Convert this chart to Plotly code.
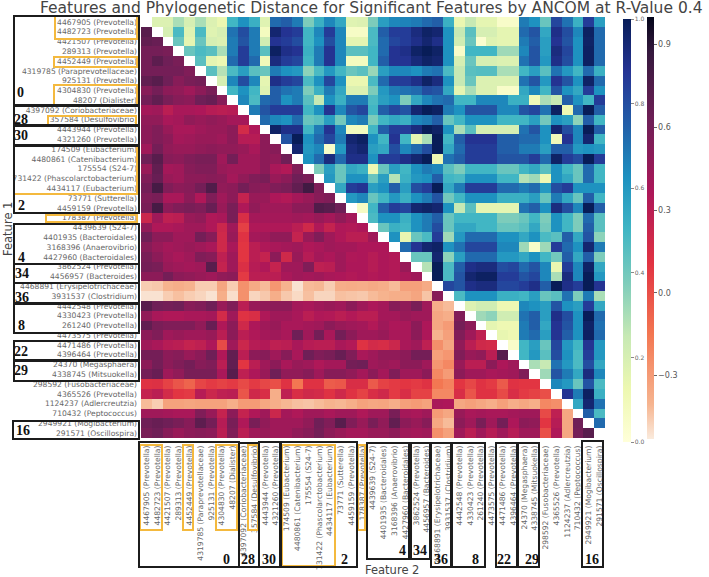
import plotly.graph_objects as go

features = ["4467905 (Prevotella)","4482723 (Prevotella)","4421507 (Prevotella)","289313 (Prevotella)","4452449 (Prevotella)",
"4319785 (Paraprevotellaceae)","925131 (Prevotella)","4304830 (Prevotella)","48207 (Dialister)","4397092 (Coriobacteriaceae)",
"357584 (Desulfovibrio)","4443944 (Prevotella)","4321260 (Prevotella)","174509 (Eubacterium)","4480861 (Catenibacterium)",
"175554 (S24-7)","731422 (Phascolarctobacterium)","4434117 (Eubacterium)","73771 (Sutterella)","4459159 (Prevotella)",
"178387 (Prevotella)","4439639 (S24-7)","4401935 (Bacteroidales)","3168396 (Anaerovibrio)","4427960 (Bacteroidales)",
"3862524 (Prevotella)","4456957 (Bacteroides)","4468891 (Erysipelotrichaceae)","3931537 (Clostridium)","4442548 (Prevotella)",
"4330423 (Prevotella)","261240 (Prevotella)","4473575 (Prevotella)","4471486 (Prevotella)","4396464 (Prevotella)",
"24370 (Megasphaera)","4338745 (Mitsuokella)","298592 (Fusobacteriaceae)","4365526 (Prevotella)","1124237 (Adlercreutzia)",
"710432 (Peptococcus)","2949921 (Mogibacterium)","291571 (Oscillospira)"]

# phylogenetic distance: one list per row, cells to the right of the diagonal
distance = [
[.18,.18,.30,.20,.30,.18,.13,.50,.62,.52,.17,.72,.75,.68,.38,.52,.65,.55,.17,.18,.38,.58,.65,.66,.68,.72,.75,.52,.13,.25,.15,.15,.05,.05,.68,.62,.42,.82,.70,.52,.85,.58],
[.20,.48,.17,.48,.17,.20,.70,.80,.68,.08,.95,.88,.85,.50,.65,.85,.65,.06,.06,.48,.75,.85,.85,.92,.97,.95,.62,.25,.45,.20,.20,.15,.15,.72,.78,.55,.90,.80,.65,.98,.72],
[.42,.15,.42,.20,.18,.68,.78,.68,.22,.88,.85,.80,.50,.62,.80,.65,.15,.15,.48,.72,.82,.85,.90,.95,.90,.62,.22,.42,.03,.17,.15,.15,.68,.75,.58,.88,.78,.62,.97,.72],
[.42,.48,.45,.30,.68,.85,.68,.45,.98,.90,.88,.52,.68,.88,.65,.45,.45,.50,.72,.88,.90,.97,1.0,.97,.62,.05,.50,.50,.50,.32,.32,.65,.78,.58,.92,.82,.62,.98,.72],
[.45,.15,.12,.72,.85,.72,.10,.92,.85,.82,.50,.68,.88,.65,.08,.08,.50,.75,.88,.88,.93,.97,.95,.62,.20,.42,.20,.20,.18,.18,.70,.78,.60,.90,.80,.62,.98,.72],
[.45,.28,.48,.58,.45,.42,.68,.62,.60,.35,.48,.60,.50,.42,.45,.33,.58,.65,.65,.62,.68,.70,.48,.25,.45,.46,.46,.30,.30,.50,.58,.45,.70,.60,.50,.72,.52],
[.20,.65,.80,.65,.15,.90,.85,.82,.48,.62,.82,.62,.13,.13,.48,.72,.85,.85,.90,.97,.92,.62,.25,.42,.18,.18,.18,.18,.70,.78,.60,.88,.78,.62,.97,.72],
[.50,.62,.50,.17,.75,.70,.68,.38,.52,.68,.55,.18,.18,.38,.60,.68,.70,.72,.80,.78,.55,.15,.30,.18,.18,.05,.05,.55,.65,.50,.78,.62,.55,.85,.62],
[.65,.48,.72,.75,.62,.68,.45,.25,.62,.52,.68,.68,.48,.58,.62,.38,.55,.65,.70,.72,.50,.50,.65,.65,.65,.52,.52,.10,.30,.25,.75,.62,.50,.85,.55],
[.68,.78,.85,.85,.85,.50,.62,.88,.65,.78,.82,.50,.75,.82,.78,.95,1.0,.98,.68,.62,.78,.78,.78,.65,.65,.78,.82,.70,.98,.12,.72,1.0,.75],
[.72,.65,.62,.72,.42,.45,.58,.40,.65,.68,.38,.50,.55,.52,.65,.68,.75,.42,.50,.62,.62,.62,.50,.50,.50,.58,.40,.62,.58,.35,.75,.50],
[.97,.90,.90,.50,.68,.88,.65,.08,.08,.50,.75,.85,.85,.92,1.0,.97,.62,.30,.45,.20,.20,.20,.20,.70,.78,.62,.95,.80,.65,1.0,.75],
[.78,1.0,.62,.72,.82,.68,.95,.98,.62,.50,.88,.50,.15,.30,1.0,.50,.75,.88,.88,.88,.75,.75,.72,.72,.62,.10,.88,.65,.95,.50],
[.95,.60,.65,.05,.60,.92,.95,.58,.55,.80,.65,.72,.80,1.0,.55,.72,.85,.85,.85,.75,.75,.68,.68,.58,.75,.75,.60,.62,.60],
[.62,.72,.92,.72,.90,.90,.62,.85,.85,.90,.95,1.0,.12,.70,.75,.85,.85,.85,.78,.78,.78,.85,.72,.97,.85,.80,1.0,.85],
[.38,.58,.42,.55,.52,.12,.42,.58,.50,.62,.68,.65,.45,.38,.50,.50,.50,.42,.42,.50,.55,.45,.62,.50,.42,.72,.50],
[.60,.42,.62,.62,.42,.58,.28,.52,.60,.62,.75,.50,.48,.62,.62,.62,.50,.50,.28,.32,.12,.62,.55,.42,.72,.50],
[.55,.85,.88,.58,.62,.75,.58,.80,.85,1.0,.55,.68,.85,.85,.85,.72,.72,.68,.72,.60,.80,.85,.62,.62,.62],
[.60,.65,.42,.50,.60,.52,.62,.68,.78,.40,.50,.62,.62,.62,.52,.52,.52,.58,.42,.68,.55,.42,.75,.50],
[.07,.50,.75,.85,.82,.95,.97,.95,.62,.25,.45,.15,.15,.15,.15,.70,.75,.62,.92,.80,.65,1.0,.75],
[.48,.62,.62,.52,.62,.68,.75,.42,.50,.50,.50,.50,.38,.38,.42,.50,.38,.62,.50,.38,.72,.45],
[.42,.52,.50,.62,.68,.80,.42,.55,.55,.50,.50,.42,.42,.45,.55,.40,.62,.50,.38,.75,.45],
[.62,.14,.42,.48,.85,.32,.60,.72,.72,.72,.62,.62,.55,.62,.48,.45,.75,.55,.78,.35],
[.72,.88,.95,.97,.62,.70,.82,.82,.82,.65,.65,.32,.05,.32,.85,.72,.62,.95,.68],
[.42,.42,.95,.35,.58,.72,.72,.72,.60,.60,.55,.62,.50,.40,.75,.55,.75,.38],
[.28,1.0,.48,.75,.90,.92,.92,.80,.82,.72,.78,.65,.13,.85,.65,.97,.55],
[1.0,.48,.78,.95,.98,.98,.85,.85,.78,.82,.65,.30,.92,.65,1.0,.60],
[.82,.78,.90,.92,.92,.82,.82,.85,.90,.75,1.0,.90,.85,1.0,.88],
[.48,.62,.62,.62,.52,.52,.50,.58,.42,.45,.70,.38,.68,.30],
[.18,.22,.22,.12,.12,.65,.62,.58,.78,.62,.58,.85,.55],
[.32,.35,.22,.22,.70,.75,.58,.90,.80,.62,1.0,.72],
[.15,.12,.12,.68,.75,.55,.88,.78,.62,.97,.70],
[.14,.12,.68,.72,.58,.88,.75,.62,.98,.72],
[.05,.50,.58,.42,.82,.60,.50,.88,.60],
[.50,.60,.45,.80,.62,.48,.85,.60],
[.30,.25,.70,.60,.48,.80,.55],
[.32,.78,.68,.55,.92,.65],
[.65,.60,.42,.78,.48],
[.88,.68,.98,.52],
[.55,.95,.70],
[.75,.48],
[.72],
]

# correlation: one list per row from the second, cells left of the diagonal
correlation = [
[.72],
[.68,.65],
[.60,.60,.58],
[.60,.70,.62,.58],
[.60,.60,.60,.60,.55],
[.68,.72,.62,.52,.58,.60],
[.52,.60,.50,.48,.42,.50,.58],
[.60,.68,.58,.52,.50,.62,.65,.52],
[.40,.42,.30,.38,.38,.36,.32,.30,.32],
[.48,.48,.38,.40,.48,.45,.48,.45,.40,.40],
[.50,.55,.45,.38,.38,.42,.45,.45,.50,.18,.35],
[.50,.55,.50,.40,.42,.45,.45,.42,.50,.32,.32,.50],
[.42,.60,.48,.45,.45,.48,.50,.48,.48,.45,.38,.50,.52],
[.62,.72,.52,.50,.55,.58,.58,.42,.60,.42,.42,.50,.48,.62],
[.45,.68,.40,.42,.52,.55,.55,.45,.42,.42,.42,.50,.38,.34,.55],
[.55,.65,.45,.42,.50,.50,.52,.50,.40,.48,.55,.58,.45,.50,.62,.58],
[.60,.80,.55,.50,.52,.60,.75,.48,.50,.60,.52,.50,.55,.58,.68,.82,.55],
[.55,.58,.38,.38,.50,.35,.55,.42,.50,.25,.45,.45,.36,.34,.40,.45,.52,.55],
[.58,.80,.50,.55,.58,.55,.65,.45,.58,.35,.48,.42,.42,.42,.50,.50,.75,.72,.62],
[.22,.42,.28,.30,.45,.48,.35,.38,.58,.15,.40,.40,.40,.40,.42,.40,.45,.40,.48,.40],
[.48,.35,.35,.38,.42,.42,.35,.22,.42,.06,.35,.35,.35,.35,.30,.20,.35,.25,.35,.34,.36],
[.62,.50,.50,.42,.42,.60,.52,.20,.45,.12,.40,.42,.48,.48,.25,.45,.55,.42,.35,.30,.30,.42],
[.52,.45,.40,.42,.45,.42,.38,.20,.38,.10,.30,.35,.38,.40,.42,.35,.38,.42,.40,.40,.36,.36,.36],
[.58,.50,.42,.38,.42,.55,.52,.28,.42,.10,.30,.25,.50,.20,.45,.32,.40,.36,.42,.35,.36,.32,.36,.34],
[.60,.58,.45,.42,.40,.42,.72,.25,.42,.14,.32,.35,.25,.42,.42,.55,.28,.30,.42,.36,.36,.32,.36,.34,.45],
[.50,.50,.60,.50,.48,.45,.42,.48,.50,.08,.30,.30,.30,.38,.42,.40,.42,.38,.36,.34,.36,.34,.36,.34,.38,.42],
[-.46,-.45,-.40,-.38,-.40,-.46,-.46,-.34,-.46,-.26,-.36,-.42,-.28,-.40,-.51,-.42,-.41,-.46,-.38,-.37,-.38,-.36,-.38,-.42,-.32,-.32,-.36],
[-.51,-.51,-.46,-.43,-.46,-.48,-.51,-.38,-.50,-.26,-.48,-.45,-.38,-.45,-.49,-.43,-.48,-.48,-.43,-.44,-.45,-.42,-.40,-.38,-.38,-.34,-.44,.52],
[.72,.62,.60,.62,.52,.55,.62,.45,.55,.30,.45,.48,.50,.50,.40,.38,.42,.45,.42,.50,.42,.36,.40,.52,.48,.58,.42,-.38,-.42],
[.48,.38,.35,.35,.38,.38,.40,.18,.42,.12,.15,.35,.42,.42,.38,.30,.35,.34,.30,.34,.30,.30,.40,.40,.45,.42,.42,-.35,-.38,.55],
[.68,.58,.55,.55,.55,.48,.65,.35,.50,.20,.36,.42,.45,.38,.38,.40,.42,.50,.45,.42,.40,.34,.42,.36,.38,.50,.36,-.35,-.30,.60,.50],
[.50,.55,.42,.45,.42,.42,.45,.30,.50,.30,.35,.40,.42,.38,.62,.42,.60,.38,.60,.50,.42,.42,.45,.38,.38,.50,.36,-.40,-.32,.55,.42,.28],
[.42,.38,.32,.30,.25,.28,.36,.02,.42,.22,.32,.34,.28,.30,.38,.32,.30,.30,.38,.34,.12,.18,.16,.22,.38,.42,.28,-.25,-.35,.48,.30,.20,.18],
[.60,.60,.50,.52,.45,.50,.62,.35,.68,.30,.50,.52,.42,.52,.38,.62,.55,.58,.65,.55,.38,.42,.48,.48,.50,.60,.60,-.32,-.28,.55,.45,.48,.30,.72],
[.50,.60,.50,.55,.60,.52,.55,.30,.68,.10,.30,.42,.50,.38,.45,.42,.35,.40,.40,.60,.62,.42,.45,.42,.50,.50,.42,-.28,-.22,.45,.30,.30,.50,.36,.42],
[.60,.65,.42,.48,.58,.58,.58,.38,.72,.28,.36,.45,.62,.48,.48,.52,.42,.52,.52,.48,.40,.50,.40,.55,.42,.42,.50,-.22,-.30,.50,.42,.42,.38,.40,.42,.55],
[.12,.13,.05,-.02,-.08,.04,.08,.05,.08,.02,.08,.03,.00,.12,-.15,.12,.12,-.05,-.03,.15,.15,-.04,.05,.08,.10,.08,.12,-.15,-.20,.10,.03,.12,.08,-.04,.12,.10,.10],
[.25,.30,.18,.10,.08,.32,.22,.28,.30,-.02,.20,.15,-.38,.28,.15,.20,.18,.12,.20,.12,.05,.15,.20,.08,.15,.05,.05,-.22,-.22,.15,-.02,.12,.12,.02,.15,.08,.05,.00],
[-.42,-.46,-.33,-.33,-.34,-.33,-.33,-.33,-.38,-.30,-.30,-.35,-.38,-.41,-.43,-.44,-.42,-.40,-.41,-.38,-.33,-.35,-.34,-.38,-.32,-.30,-.33,.38,.36,-.35,-.32,-.35,-.38,-.32,-.38,-.35,-.38,-.22,-.25],
[.42,.42,.40,.38,.38,.55,.45,.25,.50,.25,.35,.42,.22,.40,.35,.42,.42,.38,.42,.42,.35,.42,.42,.58,.40,.38,.42,-.30,-.35,.45,.38,.40,.38,.38,.40,.42,.42,.02,.28,-.35],
[.62,.65,.62,.58,.52,.70,.60,.32,.58,.35,.58,.48,.42,.42,.42,.48,.62,.55,.72,.55,.45,.58,.48,.68,.50,.45,.52,-.35,-.42,.50,.42,.58,.42,.60,.36,.50,.48,.10,.32,-.35,.62],
[.58,.62,.52,.45,.50,.52,.50,.30,.55,.30,.42,.45,.42,.42,.48,.52,.60,.50,.45,.40,.40,.45,.45,.50,.42,.40,.42,-.25,-.32,.42,.30,.42,.32,.42,.32,.42,.42,.00,.35,-.35,.60,.72],
]

n = len(features)

def fit(row, size):
    row = list(row)[:size]
    return row + [row[-1]] * (size - len(row))

upper_z, lower_z = [], []
for i in range(n):
    upper_z.append([None] * (i + 1) + (fit(distance[i], n - i - 1) if i < n - 1 else []))
    lower_z.append((fit(correlation[i - 1], i) if i > 0 else []) + [None] * (n - i))

ylgnbu = ["#ffffd9","#edf8b1","#c7e9b4","#7fcdbb","#41b6c4","#1d91c0","#225ea8","#253494","#081d58"]
rocket_r = [[0,"#faebdd"],[.083,"#f6b48f"],[.25,"#f37651"],[.417,"#e13342"],[.583,"#ad1759"],[.75,"#701f57"],[.917,"#35193e"],[1,"#03051a"]]

W, H = 709, 577
L, R, T, B = 141, 605, 17, 438
px = lambda x: (x - L) / (R - L)
py = lambda y: (B - y) / (B - T)

fig = go.Figure()
fig.add_trace(go.Heatmap(z=upper_z, x=features, y=features, zmin=0, zmax=1, hoverongaps=False,
    colorscale=[[i / 8, c] for i, c in enumerate(ylgnbu)],
    colorbar=dict(x=px(623), xanchor="left", y=py(19), yanchor="top", ypad=0, xpad=0, thickness=8, thicknessmode="pixels",
                  len=423, lenmode="pixels", outlinewidth=0, tickvals=[0,.2,.4,.6,.8,1],
                  ticktext=["0.0","0.2","0.4","0.6","0.8","1.0"], ticks="outside", ticklen=3, tickcolor="#888",
                  tickfont=dict(size=6, color="#666", family="DejaVu Sans"))))
fig.add_trace(go.Heatmap(z=lower_z, x=features, y=features, zmin=-.53, zmax=1, hoverongaps=False,
    colorscale=rocket_r,
    colorbar=dict(x=px(647), xanchor="left", y=py(17), yanchor="top", ypad=0, xpad=0, thickness=7, thicknessmode="pixels",
                  len=422, lenmode="pixels", outlinewidth=0, tickvals=[-.3,0,.3,.6,.9],
                  ticktext=["\u22120.3","0.0","0.3","0.6","0.9"], ticks="outside", ticklen=3, tickcolor="#666",
                  tickfont=dict(size=8, color="#555", family="DejaVu Sans"))))

BLACK = "#1c1c1c"; YELLOW = "#f4b93e"
black_boxes = [(14,16,139,105),(14,106,139,125),(14,126,139,145),(14,146,139,213),(14,224,139,264),(14,264,139,283),
    (14,283,139,303),(14,304,139,333),(14,341,139,360),(14,361,139,381),(13,421,139,439),
    (139,442,239,567),(239,443,259,567),(259,442,280,567),(281,442,357,567),(367,443,409,559),(411,443,430,559),
    (431,443,451,567),(452,443,485,567),(496,443,517,567),(518,443,539,567),(582,441,603,567)]
yellow_boxes = [(55,16,137,39),(54,57,137,67),(54,85,137,105),(48,116,136,125),(14,146,137,194),(46,215,137,222),
    (140,445,162,530),(183,445,193,530),(216,445,237,530),(248,445,258,530),(282,445,335,566),(358,445,365,530)]
shapes = []
for color, width, boxes in ((YELLOW, 2, yellow_boxes), (BLACK, 2, black_boxes)):
    for x0, y0, x1, y1 in boxes:
        shapes.append(dict(type="rect", xref="paper", yref="paper", x0=px(x0), x1=px(x1), y0=py(y0), y1=py(y1),
                           line=dict(color=color, width=width), fillcolor="rgba(0,0,0,0)", layer="above"))

cluster_labels = [("0",21,92),("28",21,119),("30",21,135),("2",22,205),("4",22,257),("34",22,273),("36",22,297),("8",22,325),
    ("22",21,351),("29",21,370),("16",23,430),("0",226,559),("28",248,559),("30",269,559),("2",344,559),("4",402,550),
    ("34",420,550),("36",441,559),("8",475,559),("22",504,559),("29",532,559),("16",592,559)]
annotations = [dict(text=f"<b>{t}</b>", x=px(x), y=py(y), xref="paper", yref="paper", showarrow=False,
                    font=dict(family="Liberation Serif", size=14, color="#111"), xanchor="center", yanchor="middle")
               for t, x, y in cluster_labels]
annotations += [
    dict(text="Features and Phylogenetic Distance for Significant Features by ANCOM at R-Value 0.4", x=px(371), y=py(8),
         xref="paper", yref="paper", showarrow=False, font=dict(family="DejaVu Sans", size=15.5, color="#444"), xanchor="center", yanchor="middle"),
    dict(text="Feature 2", x=px(392), y=py(570), xref="paper", yref="paper", showarrow=False,
         font=dict(family="DejaVu Sans", size=11.5, color="#444"), xanchor="center", yanchor="middle"),
    dict(text="Feature 1", x=px(8), y=py(229), xref="paper", yref="paper", showarrow=False, textangle=-90,
         font=dict(family="DejaVu Sans", size=11.5, color="#444"), xanchor="center", yanchor="middle"),
]

axis = dict(type="category", showgrid=False, zeroline=False, showline=False, ticks="", tickmode="array",
            tickvals=features, ticktext=features, tickfont=dict(family="DejaVu Sans", size=7.6, color="#666"))
fig.update_layout(width=W, height=H, paper_bgcolor="white", plot_bgcolor="white", showlegend=False,
    margin=dict(l=L, r=W - R, t=T, b=H - B, pad=0, autoexpand=False), shapes=shapes, annotations=annotations,
    xaxis=dict(axis, tickangle=-90, side="bottom", ticklabelstandoff=5), yaxis=dict(axis, autorange="reversed", ticklabelstandoff=3))
fig.write_html("out.html", post_script="document.body.style.margin='0';", config={"displayModeBar": False})
